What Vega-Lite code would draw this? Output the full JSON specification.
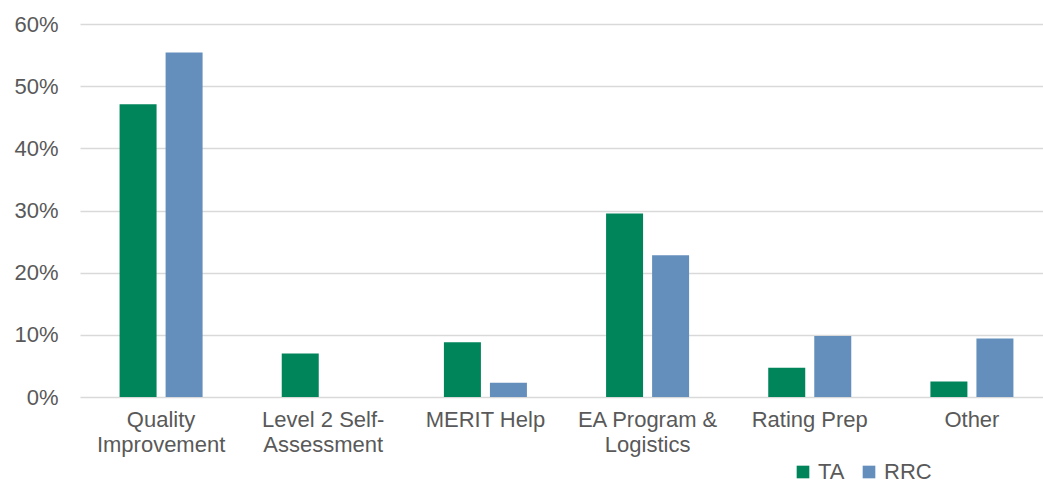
{
  "$schema": "https://vega.github.io/schema/vega-lite/v6.json",
  "width": 963,
  "height": 373,
  "autosize": {"type": "none"},
  "padding": {"left": 80, "top": 24, "right": 0, "bottom": 86},
  "background": "white",
  "config": {
    "view": {"stroke": null},
    "font": "Liberation Sans",
    "axis": {"labelFont": "Liberation Sans", "labelColor": "#595959", "labelFontSize": 22},
    "legend": {"labelFont": "Liberation Sans", "labelColor": "#595959", "labelFontSize": 22}
  },
  "data": {
    "values": [
      {"category": "Quality\nImprovement", "series": "TA", "value": 0.471},
      {"category": "Quality\nImprovement", "series": "RRC", "value": 0.554},
      {"category": "Level 2 Self-\nAssessment", "series": "TA", "value": 0.070},
      {"category": "Level 2 Self-\nAssessment", "series": "RRC", "value": 0.0},
      {"category": "MERIT Help", "series": "TA", "value": 0.088},
      {"category": "MERIT Help", "series": "RRC", "value": 0.023},
      {"category": "EA Program &\nLogistics", "series": "TA", "value": 0.295},
      {"category": "EA Program &\nLogistics", "series": "RRC", "value": 0.228},
      {"category": "Rating Prep", "series": "TA", "value": 0.047},
      {"category": "Rating Prep", "series": "RRC", "value": 0.098},
      {"category": "Other", "series": "TA", "value": 0.025},
      {"category": "Other", "series": "RRC", "value": 0.094}
    ]
  },
  "mark": {"type": "bar"},
  "encoding": {
    "x": {
      "field": "category",
      "type": "nominal",
      "sort": null,
      "scale": {"paddingInner": 0, "paddingOuter": 0, "range": [0, 973]},
      "axis": {
        "title": null,
        "labelAngle": 0,
        "ticks": false,
        "domain": false,
        "labelPadding": 12,
        "labelLineHeight": 25,
        "labelBaseline": "top",
        "labelExpr": "split(datum.value, '\\n')"
      }
    },
    "xOffset": {
      "field": "series",
      "type": "nominal",
      "sort": ["TA", "RRC"],
      "scale": {"paddingInner": 0.196, "paddingOuter": 0.86}
    },
    "y": {
      "field": "value",
      "type": "quantitative",
      "scale": {"domain": [0, 0.6], "nice": false},
      "axis": {
        "title": null,
        "values": [0, 0.1, 0.2, 0.3, 0.4, 0.5, 0.6],
        "format": ".0%",
        "ticks": false,
        "domain": false,
        "grid": true,
        "gridColor": "#d9d9d9",
        "gridWidth": 1.5,
        "labelPadding": 22
      }
    },
    "color": {
      "field": "series",
      "type": "nominal",
      "sort": ["TA", "RRC"],
      "scale": {"domain": ["TA", "RRC"], "range": ["#00845A", "#648FBC"]},
      "legend": {
        "title": null,
        "orient": "none",
        "direction": "horizontal",
        "legendX": 712,
        "legendY": 437,
        "symbolType": "square",
        "symbolSize": 160,
        "symbolStrokeWidth": 0,
        "labelOffset": 4,
        "columnPadding": 13
      }
    }
  }
}
